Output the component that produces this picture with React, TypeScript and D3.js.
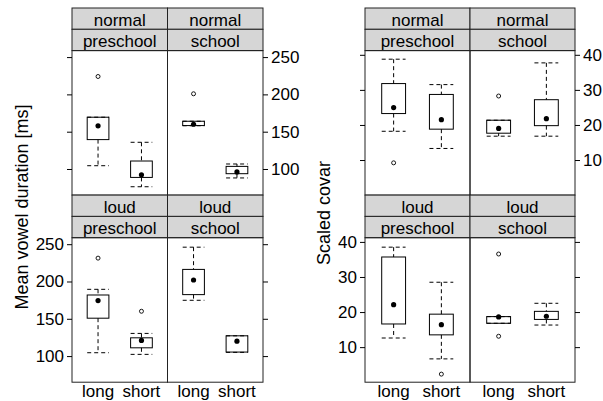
import { useEffect, useRef } from "react";
import * as d3 from "d3";

const width = 603;
const height = 401;

// panel order: normal/preschool, normal/school, loud/preschool, loud/school
const loudnessLabels = ["normal", "normal", "loud", "loud"];
const schoolLabels = ["preschool", "school", "preschool", "school"];
const lengthLabels = ["long", "short"];

// vowel duration [ms], two values per panel (long, short)
const durLower = [104.4, 76.2, 158, 88, 104.5, 102.3, 174.8, 105];
const durQ1 = [139.4, 88.7, 158.2, 93.7, 150.8, 111.1, 182.4, 105.4];
const durMedian = [157.8, 92.3, 160, 96, 174.4, 121, 202, 120];
const durQ3 = [169.4, 110.7, 164, 103.5, 181.9, 124.5, 216.2, 127.2];
const durUpper = [169.4, 135.8, 164, 106.7, 189.5, 130.4, 246, 127.2];
const durOutliers = [[224], [], [200.8], [], [231.3], [160.1], [], []];
const durTicks = [100, 150, 200, 250];

// scaled covar
const covLower = [18.2, 13.3, 16.8, 16.8, 12.6, 6.65, 16.8, 16.3];
const covQ1 = [23.25, 18.8, 17.65, 19.8, 16.6, 13.5, 16.8, 17.9];
const covMedian = [24.95, 21.5, 19, 21.8, 22.1, 16.4, 18.6, 18.8];
const covQ3 = [31.8, 28.7, 21.35, 27.2, 35.7, 19.4, 18.7, 20.2];
const covUpper = [38.75, 31.5, 21.35, 37.7, 38.5, 28.5, 18.7, 22.5];
const covOutliers = [[9.2], [], [28.25], [], [], [2.3], [36.55, 13.1], []];
const covTicks = [10, 20, 30, 40];

const font = "'Liberation Sans', Arial, Helvetica, sans-serif";
const fontSize = 17;

type Chart = {
    left: number;
    right: number;
    title: string;
    titleX: number;
    titleY: number;
    domain: [number, number];
    ticks: number[];
    lower: number[];
    q1: number[];
    median: number[];
    q3: number[];
    upper: number[];
    outliers: number[][];
};

const charts: Chart[] = [
    {
        left: 72,
        right: 263,
        title: "Mean vowel duration [ms]",
        titleX: 23,
        titleY: 207,
        domain: [65, 258.7],
        ticks: durTicks,
        lower: durLower,
        q1: durQ1,
        median: durMedian,
        q3: durQ3,
        upper: durUpper,
        outliers: durOutliers,
    },
    {
        left: 365,
        right: 575,
        title: "Scaled covar",
        titleX: 325,
        titleY: 213,
        domain: [0, 41.2],
        ticks: covTicks,
        lower: covLower,
        q1: covQ1,
        median: covMedian,
        q3: covQ3,
        upper: covUpper,
        outliers: covOutliers,
    },
];

const top = 8;
const stripH = 21.3;
const panelH = 144.5;
const rowH = 2 * stripH + panelH;

function drawChart(svg: any, chart: Chart) {
    const colW = (chart.right - chart.left) / 2;

    for (let p = 0; p < 4; p++) {
        const row = p < 2 ? 0 : 1;
        const col = p % 2;
        const x0 = chart.left + col * colW;
        const x1 = x0 + colW;
        const rowTop = top + row * rowH;
        const panelTop = rowTop + 2 * stripH;
        const panelBottom = panelTop + panelH;

        const g = svg.append("g");

        // strips
        [loudnessLabels[p], schoolLabels[p]].forEach((label, i) => {
            g.append("rect")
                .attr("x", x0)
                .attr("y", rowTop + i * stripH)
                .attr("width", colW)
                .attr("height", stripH)
                .attr("fill", "#d6d6d6")
                .attr("stroke", "#222")
                .attr("stroke-width", 1);
            g.append("text")
                .attr("x", (x0 + x1) / 2)
                .attr("y", rowTop + i * stripH + stripH - 3.5)
                .attr("text-anchor", "middle")
                .attr("font-family", font)
                .attr("font-size", fontSize)
                .text(label);
        });

        const x = d3.scaleLinear().domain([0.4, 2.6]).range([x0, x1]);
        const y = d3
            .scaleLinear()
            .domain(chart.domain)
            .range([panelBottom, panelTop]);

        g.append("rect")
            .attr("x", x0)
            .attr("y", panelTop)
            .attr("width", colW)
            .attr("height", panelH)
            .attr("fill", "none")
            .attr("stroke", "#222")
            .attr("stroke-width", 1);

        lengthLabels.forEach((_, k) => {
            const i = p * 2 + k;
            const cx = x(k + 1);
            const half = x(k + 1.25) - cx;
            const dashed = "4,3";

            // whiskers
            [
                [chart.upper[i], chart.q3[i]],
                [chart.q1[i], chart.lower[i]],
            ].forEach(([a, b]) => {
                g.append("line")
                    .attr("x1", cx)
                    .attr("x2", cx)
                    .attr("y1", y(a))
                    .attr("y2", y(b))
                    .attr("stroke", "black")
                    .attr("stroke-dasharray", dashed);
            });

            // caps
            [chart.upper[i], chart.lower[i]].forEach((v) => {
                g.append("line")
                    .attr("x1", cx - half)
                    .attr("x2", cx + half)
                    .attr("y1", y(v))
                    .attr("y2", y(v))
                    .attr("stroke", "black")
                    .attr("stroke-dasharray", dashed);
            });

            g.append("rect")
                .attr("x", cx - half)
                .attr("y", y(chart.q3[i]))
                .attr("width", 2 * half)
                .attr(
                    "height",
                    Math.max(0.5, y(chart.q1[i]) - y(chart.q3[i]))
                )
                .attr("fill", "none")
                .attr("stroke", "black")
                .attr("stroke-width", 1);

            g.append("circle")
                .attr("cx", cx)
                .attr("cy", y(chart.median[i]))
                .attr("r", 2.6)
                .attr("fill", "black");

            chart.outliers[i].forEach((v) => {
                g.append("circle")
                    .attr("cx", cx)
                    .attr("cy", y(v))
                    .attr("r", 2)
                    .attr("fill", "none")
                    .attr("stroke", "black")
                    .attr("stroke-width", 0.9);
            });

            if (row === 1) {
                g.append("text")
                    .attr("x", cx)
                    .attr("y", 397)
                    .attr("text-anchor", "middle")
                    .attr("font-family", font)
                    .attr("font-size", fontSize)
                    .text(lengthLabels[k]);
            }
        });

        // y axes: labels right on top row, left on bottom row
        if (col === 0) {
            const axis = d3
                .axisLeft(y)
                .tickValues(chart.ticks)
                .tickSize(5)
                .tickPadding(3);
            if (row === 0) axis.tickFormat(() => "");
            svg.append("g")
                .attr("transform", `translate(${x0}, 0)`)
                .call(axis)
                .call((a: any) => a.select(".domain").remove())
                .selectAll("text")
                .attr("font-family", font)
                .attr("font-size", fontSize)
                .attr("fill", "black");
        } else {
            const axis = d3
                .axisRight(y)
                .tickValues(chart.ticks)
                .tickSize(5)
                .tickPadding(3);
            if (row === 1) axis.tickFormat(() => "");
            svg.append("g")
                .attr("transform", `translate(${x1}, 0)`)
                .call(axis)
                .call((a: any) => a.select(".domain").remove())
                .selectAll("text")
                .attr("font-family", font)
                .attr("font-size", fontSize)
                .attr("fill", "black");
        }
    }

    svg.append("text")
        .attr(
            "transform",
            `translate(${chart.titleX}, ${chart.titleY}) rotate(-90)`
        )
        .attr("text-anchor", "middle")
        .attr("dominant-baseline", "middle")
        .attr("font-family", font)
        .attr("font-size", 18)
        .text(chart.title);
}

export default function App() {
    const svgRef = useRef<SVGSVGElement>(null);

    useEffect(() => {
        const svg = d3.select(svgRef.current);
        svg.selectAll("*").remove();
        charts.forEach((chart) => drawChart(svg, chart));
    }, []);

    return (
        <svg
            ref={svgRef}
            width={width}
            height={height}
            style={{
                position: "absolute",
                left: 0,
                top: 0,
                background: "white",
            }}
        />
    );
}
